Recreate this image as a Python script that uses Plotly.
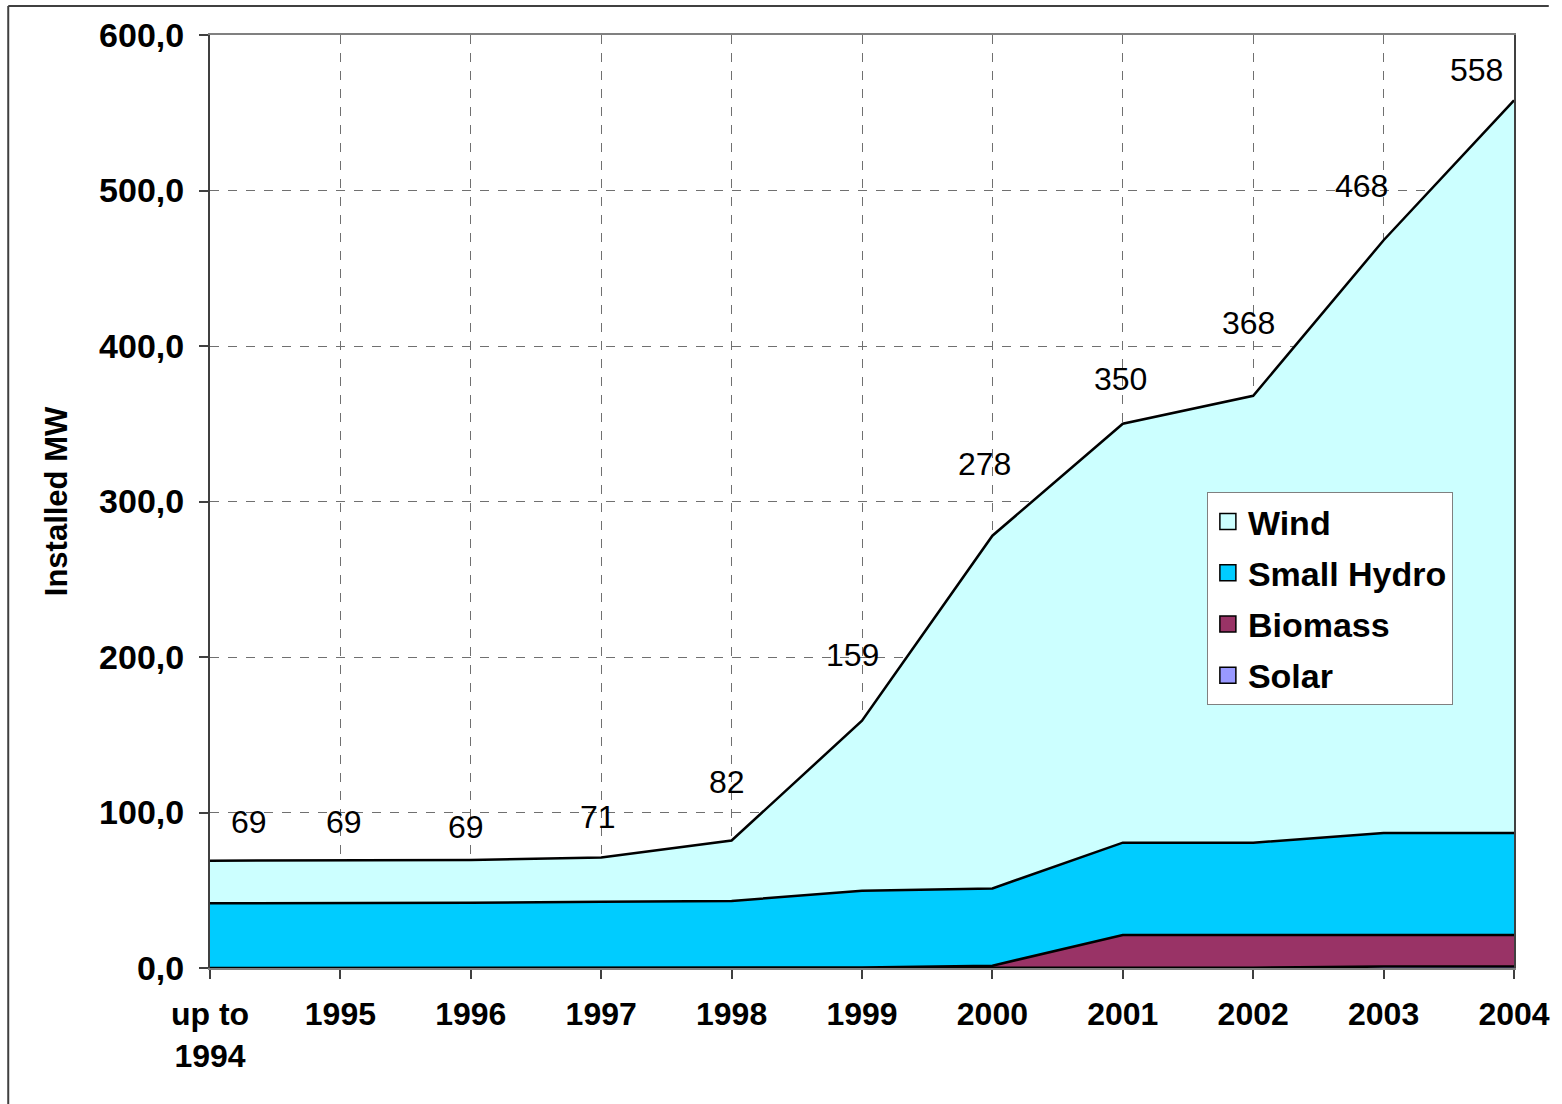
import plotly.graph_objects as go

# ---------------- data ----------------
categories = ["up to<br>1994", "1995", "1996", "1997", "1998", "1999",
              "2000", "2001", "2002", "2003", "2004"]
solar = [0, 0, 0, 0, 0, 0, 0, 0, 0.2, 0.9, 0.9]
biomass = [0, 0, 0, 0, 0, 0.3, 1.5, 21.2, 21.0, 20.3, 20.3]
small_hydro = [41.6, 41.6, 42.0, 42.6, 43.1, 49.4, 49.7, 59.4, 59.4, 65.6, 65.6]
wind = [27.4, 27.4, 27.4, 28.4, 38.9, 109.3, 226.8, 269.4, 287.4, 381.2, 471.2]
y_ticks = [0, 100, 200, 300, 400, 500, 600]

# label pixel offsets (style only)
label_dx = [39, 4, -5, -3, -5, -10, -8, -2, -5, -22, -38]
label_dy = [39, 39, 33, 41, 58, 66, 72, 45, 73, 54, 30]

x = list(range(len(categories)))
totals = [round(s + b + h + w, 1) for s, b, h, w in zip(solar, biomass, small_hydro, wind)]

series = [
    ("Solar", solar, "#9999FF"),
    ("Biomass", biomass, "#993366"),
    ("Small Hydro", small_hydro, "#00CCFF"),
    ("Wind", wind, "#CCFFFF"),
]

FONT = "Liberation Sans, Arial, sans-serif"
PW = 1312  # plot width in px
fig = go.Figure()

for name, vals, col in series:
    fig.add_trace(go.Scatter(
        x=x, y=vals, name=name, stackgroup="one", mode="lines",
        line=dict(color="black", width=2.5), fillcolor=col,
        showlegend=False, hoverinfo="x+y+name",
    ))

# legend entries with square symbols (Wind on top)
for rank, (name, vals, col) in enumerate(reversed(series)):
    fig.add_trace(go.Scatter(
        x=[None], y=[None], name=name, mode="markers",
        marker=dict(symbol="square", size=16, color=col,
                    line=dict(color="black", width=1.5)),
        showlegend=True, legendrank=rank + 1, legendgroup="g" + str(rank),
    ))

for i, t in enumerate(totals):
    fig.add_annotation(
        x=x[i], y=t, text=str(int(round(t))), showarrow=False,
        xshift=label_dx[i], yshift=label_dy[i],
        font=dict(family=FONT, size=32, color="black"),
    )

# outer frame (top + left) like the source image
fig.add_shape(type="line", xref="paper", yref="paper",
              x0=(7 - 210) / PW, x1=(1557 - 210) / PW,
              y0=(968 - 6) / 933, y1=(968 - 6) / 933,
              line=dict(color="#404040", width=2))
fig.add_shape(type="line", xref="paper", yref="paper",
              x0=(7 - 210) / PW, x1=(7 - 210) / PW,
              y0=(968 - 6) / 933, y1=(968 - 1104) / 933,
              line=dict(color="#404040", width=2))

fig.update_layout(
    width=1562, height=1104,
    margin=dict(l=210, r=1562 - 210 - PW, t=35, b=136),
    paper_bgcolor="white", plot_bgcolor="white",
    separators=", ",
    font=dict(family=FONT, color="black"),
    showlegend=True,
    legend=dict(
        x=(1213 - 210) / PW, y=(968 - 492) / 933,
        xanchor="left", yanchor="top",
        bgcolor="white", bordercolor="#808080", borderwidth=1,
        font=dict(family=FONT, size=34, color="black", weight="bold"),
        traceorder="grouped", tracegroupgap=4,
    ),
)

fig.update_xaxes(
    range=[0, len(categories) - 1],
    tickmode="array", tickvals=x, ticktext=[f"<b>{c}</b>" for c in categories],
    tickfont=dict(family=FONT, size=32, color="black"),
    showgrid=True, gridcolor="#707070", griddash="dash", gridwidth=1,
    showline=True, linecolor="#808080", linewidth=2, mirror=True,
    ticks="outside", ticklen=9, tickcolor="#404040", tickwidth=1.5,
    ticklabelstandoff=8,
    zeroline=False, fixedrange=True,
)
fig.update_yaxes(
    range=[0, 600],
    tickmode="array", tickvals=y_ticks,
    tickformat=".1f",
    tickfont=dict(family=FONT, size=34, color="black", weight="bold"),
    showgrid=True, gridcolor="#707070", griddash="dash", gridwidth=1,
    showline=True, linecolor="#404040", linewidth=2, mirror=True,
    ticks="outside", ticklen=9, tickcolor="#404040", tickwidth=1.5,
    ticklabelstandoff=8,
    zeroline=False, fixedrange=True,
    title=dict(text="<b>Installed MW</b>", standoff=22,
               font=dict(family=FONT, size=31, color="black")),
)

fig.write_html("out.html", config={"displayModeBar": False},
               post_script="document.body.style.margin='0';document.body.style.overflow='hidden';")
